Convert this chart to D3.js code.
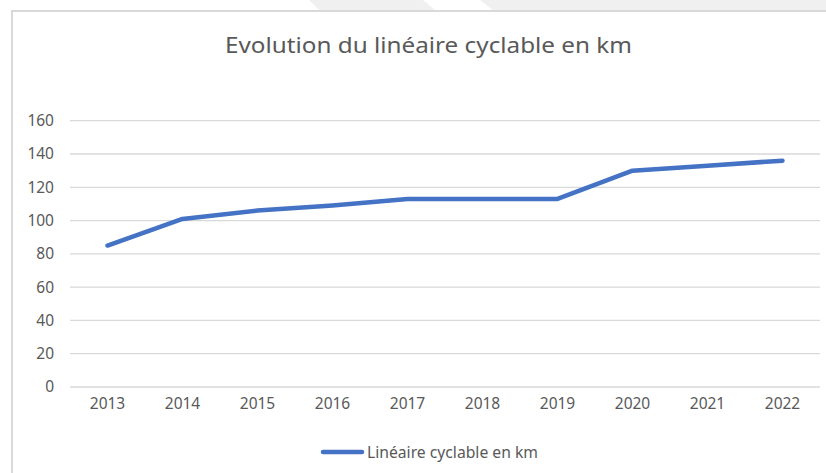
<!DOCTYPE html>
<html>
<head>
<meta charset="utf-8">
<script src="https://cdn.jsdelivr.net/npm/d3@7"></script>
<style>
  body { margin: 0; background: #fff; }
  svg { display: block; font-family: "Noto Sans", sans-serif; }
</style>
</head>
<body>
<svg></svg>
<script>
// data
var years = ["2013", "2014", "2015", "2016", "2017", "2018", "2019", "2020", "2021", "2022"];
var lineaire = [85, 101, 106, 109, 113, 113, 113, 130, 133, 136];
var yTicks = [0, 20, 40, 60, 80, 100, 120, 140, 160];
var seriesName = "Linéaire cyclable en km";
var title = "Evolution du linéaire cyclable en km";

var svgWidth = 826, svgHeight = 473;
var textColor = "#595959", gridColor = "#d9d9d9", lineColor = "#4472C4";

var svg = d3.select("svg")
    .attr("width", svgWidth)
    .attr("height", svgHeight);

// strip above the chart frame (light grey with white slants)
svg.append("rect")
    .attr("x", 0).attr("y", 0)
    .attr("width", svgWidth).attr("height", 11)
    .attr("fill", "#f0f0f0");
svg.append("polygon")
    .attr("points", "0,0 309,0 320,11 0,11")
    .attr("fill", "#fff");
svg.append("polygon")
    .attr("points", "423,0 480,0 494,11 436,11")
    .attr("fill", "#fff");

// frame
svg.append("path")
    .attr("d", "M12," + svgHeight + "V11H" + svgWidth)
    .attr("fill", "none")
    .attr("stroke", gridColor)
    .attr("stroke-width", 2);

var x = d3.scaleBand()
    .domain(years)
    .range([70, 820]);

var y = d3.scaleLinear()
    .domain([0, 160])
    .range([387, 120.7]);

// gridlines
svg.append("g")
    .selectAll("line")
    .data(yTicks)
    .enter()
    .append("line")
    .attr("x1", 70)
    .attr("x2", 820)
    .attr("y1", function(d) { return y(d); })
    .attr("y2", function(d) { return y(d); })
    .attr("stroke", gridColor)
    .attr("stroke-width", 1.3);

// y axis labels
var yAxis = svg.append("g")
    .attr("transform", "translate(54,0)")
    .call(d3.axisLeft(y).tickValues(yTicks).tickSize(0).tickPadding(0));
yAxis.select(".domain").remove();
yAxis.selectAll("text")
    .attr("fill", textColor)
    .style("font-size", "15.5px")
    .style("font-family", "Noto Sans");

// x axis labels
var xAxis = svg.append("g")
    .attr("transform", "translate(0,398)")
    .call(d3.axisBottom(x).tickSize(0).tickPadding(0));
xAxis.select(".domain").remove();
xAxis.selectAll("text")
    .attr("fill", textColor)
    .style("font-size", "15.5px")
    .style("font-family", "Noto Sans");

// the line
var line = d3.line()
    .x(function(d, i) { return x(years[i]) + x.bandwidth() / 2; })
    .y(function(d) { return y(d); });

svg.append("path")
    .datum(lineaire)
    .attr("d", line)
    .attr("fill", "none")
    .attr("stroke", lineColor)
    .attr("stroke-width", 4.5)
    .attr("stroke-linecap", "round")
    .attr("stroke-linejoin", "round");

// title
svg.append("text")
    .attr("x", 428.5)
    .attr("y", 53)
    .attr("text-anchor", "middle")
    .attr("fill", textColor)
    .attr("textLength", 407)
    .attr("lengthAdjust", "spacingAndGlyphs")
    .style("font-size", "22.5px")
    .text(title);

// legend
svg.append("line")
    .attr("x1", 323).attr("x2", 362)
    .attr("y1", 452).attr("y2", 452)
    .attr("stroke", lineColor)
    .attr("stroke-width", 4.5)
    .attr("stroke-linecap", "round");
svg.append("text")
    .attr("x", 367)
    .attr("y", 457.5)
    .attr("fill", textColor)
    .attr("textLength", 171)
    .attr("lengthAdjust", "spacingAndGlyphs")
    .style("font-size", "15.5px")
    .text(seriesName);
</script>
</body>
</html>
